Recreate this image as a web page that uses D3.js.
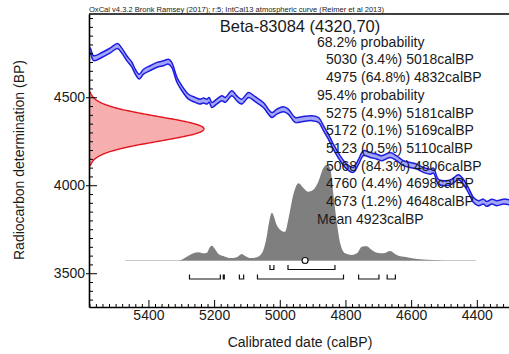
<!DOCTYPE html>
<html><head><meta charset="utf-8">
<script src="https://cdn.jsdelivr.net/npm/d3@7/dist/d3.min.js"></script>
<style>body{margin:0;background:#fff}svg{display:block}text{font-family:"Liberation Sans",Arial,sans-serif;fill:#1a1a1a}</style>
</head><body><svg id="c" width="509" height="354"></svg>
<script>
// ---- data ----
const headerText = "OxCal v4.3.2 Bronk Ramsey (2017); r:5; IntCal13 atmospheric curve (Reimer et al 2013)";
const titleText = "Beta-83084 (4320,70)";
const radiocarbonBP = 4320;
const radiocarbonErr = 70;
const curveSigma = 14;
// calibration curve (calBP, BP)
const curveCal = [5581,5577,5567,5542,5517,5494,5481,5466,5450,5440,5428,5415,5395,5374,5354,5339,5329,5313,5298,5278,5258,5243,5232,5222,5215,5207,5192,5176,5166,5146,5131,5116,5095,5075,5050,5024,5009,4989,4974,4953,4933,4902,4882,4867,4852,4837,4816,4796,4776,4760,4745,4725,4704,4689,4664,4644,4623,4603,4583,4563,4542,4532,4517,4496,4476,4456,4441,4426,4410,4395,4380,4370,4354,4339,4319,4302];
const curveBP  = [4769,4765,4722,4740,4765,4791,4765,4722,4684,4645,4617,4645,4665,4684,4693,4702,4684,4598,4551,4503,4485,4475,4481,4475,4485,4456,4475,4494,4485,4523,4494,4475,4513,4489,4456,4399,4418,4432,4418,4371,4375,4381,4371,4324,4276,4219,4153,4106,4087,4134,4182,4172,4162,4153,4172,4153,4125,4115,4106,4087,4077,4083,4020,4011,4020,4045,4020,3973,3916,3898,3907,3894,3907,3898,3907,3903];
// calibrated probability distribution (calBP, relative density)
const distCal = [5470,5309,5283,5263,5248,5232,5222,5212,5207,5197,5187,5172,5151,5131,5116,5105,5090,5070,5055,5050,5040,5037,5024,5009,4994,4984,4974,4958,4943,4928,4913,4898,4882,4867,4857,4847,4837,4826,4816,4801,4781,4765,4750,4735,4720,4704,4684,4664,4644,4613,4573,4532,4497,4403];
const distDensity = [0,0,0.04,0.075,0.086,0.075,0.082,0.145,0.155,0.117,0.068,0.047,0.025,0.034,0.068,0.047,0.025,0.034,0.075,0.11,0.25,0.31,0.50,0.37,0.31,0.30,0.43,0.70,0.81,0.76,0.72,0.74,0.83,0.97,1.0,0.97,0.70,0.39,0.18,0.075,0.058,0.075,0.145,0.15,0.11,0.082,0.075,0.10,0.058,0.034,0.013,0.005,0,0];
const meanCal = 4923;
const ranges68 = [[5030,5018],[4975,4832]];
const ranges95 = [[5275,5181],[5172,5169],[5123,5110],[5068,4806],[4760,4698],[4673,4648]];
const summaryLines = [
  ["68.2% probability",0],
  ["5030 (3.4%) 5018calBP",1],
  ["4975 (64.8%) 4832calBP",1],
  ["95.4% probability",0],
  ["5275 (4.9%) 5181calBP",1],
  ["5172 (0.1%) 5169calBP",1],
  ["5123 (0.5%) 5110calBP",1],
  ["5068 (84.3%) 4806calBP",1],
  ["4760 (4.4%) 4698calBP",1],
  ["4673 (1.2%) 4648calBP",1],
  ["Mean 4923calBP",0]
];
const xMajor = [5400,5200,5000,4800,4600,4400];
const yMajor = [3500,4000,4500];

// ---- layout ----
const L = 89, R = 509, T = 14, B = 307;
const svg = d3.select("#c");
const x = d3.scaleLinear().domain([5581, 4302]).range([L, R]);
const y = d3.scaleLinear().domain([3308, 4973]).range([B, T]);

const defs = svg.append("defs");
defs.append("clipPath").attr("id","clip").append("rect").attr("x",L).attr("y",T).attr("width",R-L).attr("height",B-T);

// header
svg.append("text").attr("x",L).attr("y",11.5).attr("font-size",7.5)
  .attr("textLength",295).attr("lengthAdjust","spacingAndGlyphs").text(headerText);

// red normal distribution on y axis
const redW = 115;
const rcPts = d3.range(-3, 3.001, 0.05).map(s => {
  const bp = radiocarbonBP + s*radiocarbonErr;
  return [bp, Math.exp(-0.5*s*s)];
});
const g = svg.append("g").attr("clip-path","url(#clip)");
g.append("path").datum(rcPts)
  .attr("d", d3.area().y(d=>y(d[0])).x0(L).x1(d=>L+redW*d[1]).curve(d3.curveLinear))
  .attr("fill","#f6aeae");
g.append("path").datum(rcPts)
  .attr("d", d3.line().y(d=>y(d[0])).x(d=>L+redW*d[1]))
  .attr("fill","none").attr("stroke","#e3141c").attr("stroke-width",1.4);

// calibration curve band
const cdata = curveCal.map((c,i)=>[c,curveBP[i]]);
const cv = d3.curveCatmullRom.alpha(0.5);
g.append("path").datum(cdata)
  .attr("d", d3.area().x(d=>x(d[0])).y0(d=>y(d[1]-curveSigma)).y1(d=>y(d[1]+curveSigma)).curve(cv))
  .attr("fill","#a3a6f7");
[-1,1].forEach(sg=>{
  g.append("path").datum(cdata)
    .attr("d", d3.line().x(d=>x(d[0])).y(d=>y(d[1]+sg*curveSigma)).curve(cv))
    .attr("fill","none").attr("stroke","#1c1ce0").attr("stroke-width",1.5);
});

// calibrated distribution
const baseY = 260.5, distH = 95.5;
svg.append("line").attr("x1",x(distCal[0])).attr("x2",x(distCal[distCal.length-1]))
  .attr("y1",baseY).attr("y2",baseY).attr("stroke","#c8c8c8").attr("stroke-width",1.2);
const ddata = distCal.map((c,i)=>[c,distDensity[i]]);
svg.append("path").datum(ddata)
  .attr("d", d3.area().x(d=>x(d[0])).y0(baseY).y1(d=>baseY-distH*d[1]).curve(d3.curveMonotoneX))
  .attr("fill","#7f7f7f");

// summary text
const tx0 = 317, tx1 = 326, ty0 = 46.7, dy = 17.7;
svg.append("text").attr("x",300).attr("y",32).attr("text-anchor","middle").attr("font-size",16.5).text(titleText);
summaryLines.forEach((ln,i)=>{
  svg.append("text").attr("x", ln[1]?tx1:tx0).attr("y", ty0+i*dy).attr("font-size",14).text(ln[0]);
});

// range brackets
function brackets(rs, yy){
  rs.forEach(r=>{
    const a = x(r[0]), b = x(r[1]);
    svg.append("path").attr("d",`M${a},${yy-4.5}V${yy}H${b}V${yy-4.5}`)
      .attr("fill","none").attr("stroke","#111").attr("stroke-width",1.2);
  });
}
brackets(ranges68, 269.5);
brackets(ranges95, 279);

// mean marker
svg.append("circle").attr("cx",x(meanCal)).attr("cy",baseY).attr("r",3)
  .attr("fill","#fff").attr("stroke","#111").attr("stroke-width",1.2);

// axes
const xMinor = d3.range(4320, 5581, 20).filter(v=>!xMajor.includes(v));
const yMinor = d3.range(3350, 4973, 50).filter(v=>!yMajor.includes(v));
const ax = svg.append("g").attr("transform",`translate(0,${B})`);
ax.call(d3.axisBottom(x).tickValues(xMajor).tickSizeInner(-7).tickSizeOuter(0).tickPadding(3).tickFormat(d3.format("d")));
ax.select(".domain").attr("stroke-width",1.6);
ax.selectAll("text").attr("font-size",14).attr("font-family",'"Liberation Sans",Arial,sans-serif').attr("fill","#1a1a1a");
svg.append("g").attr("transform",`translate(0,${B})`)
  .call(d3.axisBottom(x).tickValues(xMinor).tickSize(-3).tickFormat(""))
  .call(s=>s.select(".domain").remove());

const ay = svg.append("g").attr("transform",`translate(${L},0)`);
ay.call(d3.axisLeft(y).tickValues(yMajor).tickSizeInner(-8).tickSizeOuter(0).tickPadding(4).tickFormat(d3.format("d")));
ay.select(".domain").attr("stroke-width",1.6);
ay.selectAll("text").attr("font-size",14).attr("font-family",'"Liberation Sans",Arial,sans-serif').attr("fill","#1a1a1a");
ay.selectAll(".tick line").attr("x1",-3);
svg.append("g").attr("transform",`translate(${L},0)`)
  .call(d3.axisLeft(y).tickValues(yMinor).tickSize(-4).tickFormat(""))
  .call(s=>s.select(".domain").remove());

// top frame
svg.append("line").attr("x1",L).attr("x2",R).attr("y1",T).attr("y2",T).attr("stroke","#000").attr("stroke-width",1.6);

// axis titles
svg.append("text").attr("x",300).attr("y",347).attr("text-anchor","middle").attr("font-size",14).text("Calibrated date (calBP)");
svg.append("text").attr("transform","translate(23.5,160) rotate(-90)").attr("text-anchor","middle").attr("font-size",14).text("Radiocarbon determination (BP)");
</script></body></html>
